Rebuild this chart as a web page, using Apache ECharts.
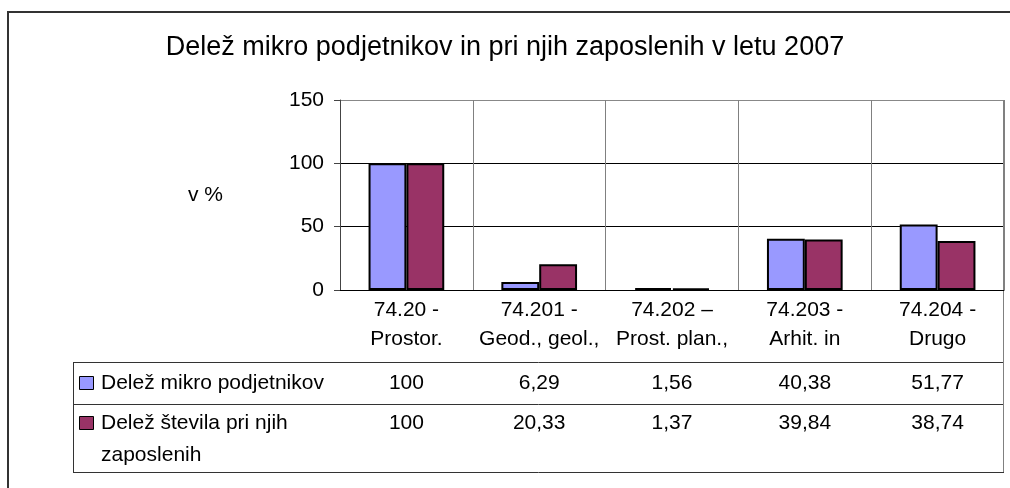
<!DOCTYPE html>
<html>
<head>
<meta charset="utf-8">
<script src="https://cdn.jsdelivr.net/npm/echarts@6/dist/echarts.min.js"></script>
<style>
  html, body { margin: 0; padding: 0; background: #fff; }
  #chart { width: 1010px; height: 488px; }
</style>
</head>
<body>
<div id="chart"></div>
<script>
// podatki
const categories = ['74.20 -\nProstor.', '74.201 -\nGeod., geol.,', '74.202 –\nProst. plan.,', '74.203 -\nArhit. in', '74.204 -\nDrugo']
const seriesNames = ['Delež mikro podjetnikov', 'Delež števila pri njih\nzaposlenih']
const mikro = [100, 6.29, 1.56, 40.38, 51.77]
const zaposleni = [100, 20.33, 1.37, 39.84, 38.74]
const yTicks = [0, 50, 100, 150]

const font = '"Liberation Sans", Arial, sans-serif'
const colors = ['#9999FF', '#993366']

const chart = echarts.init(document.getElementById('chart'))

// vrednosti v tabeli se pišejo z vejico
function fmt (v) {
  return String(v).replace('.', ',')
}

const optionData = {
  animation: false,
  textStyle: { fontFamily: font },
  title: {
    text: 'Delež mikro podjetnikov in pri njih zaposlenih v letu 2007',
    left: 'center',
    top: 29,
    textStyle: { fontSize: 27, fontWeight: 'normal', color: '#000', fontFamily: font }
  },
  grid: { left: 340, right: 6, top: 100, bottom: 198 },
  xAxis: {
    type: 'category',
    data: categories,
    axisLine: { lineStyle: { color: '#000', width: 1 } },
    axisTick: { length: 182, lineStyle: { color: '#808080' } },
    axisLabel: { color: '#000', fontSize: 21, lineHeight: 29, margin: 6, interval: 0, fontFamily: font },
    splitLine: { show: true, lineStyle: { color: '#808080' } }
  },
  yAxis: {
    type: 'value',
    min: yTicks[0],
    max: yTicks[yTicks.length - 1],
    interval: 50,
    axisLine: { show: true, lineStyle: { color: '#444' } },
    axisTick: { show: true, length: 6, lineStyle: { color: '#444' } },
    axisLabel: { color: '#000', fontSize: 21, margin: 16, fontFamily: font },
    splitLine: { lineStyle: { color: ['#000', '#000', '#000', '#888'] } }
  },
  series: [
    {
      name: seriesNames[0],
      type: 'bar',
      data: mikro,
      barGap: '0%',
      barCategoryGap: '43%',
      itemStyle: { color: colors[0], borderColor: '#000', borderWidth: 2 }
    },
    {
      name: seriesNames[1],
      type: 'bar',
      data: zaposleni,
      itemStyle: { color: colors[1], borderColor: '#000', borderWidth: 2 }
    }
  ]
}
chart.setOption(optionData)

// tabela s podatki pod grafom
const left = 73
const right = 1004
const rowTops = [362, 404, 472]
const rowMid = [383, 423]
const graphic = []

// okvir celotne slike
graphic.push({ type: 'rect', shape: { x: 8, y: 12, width: 1100, height: 600 }, style: { fill: 'none', stroke: '#333', lineWidth: 2 } })

graphic.push({ type: 'text', x: 188, y: 195, style: { text: 'v %', fontSize: 21, fontFamily: font, fill: '#000', verticalAlign: 'middle' } })

rowTops.forEach(function (y) {
  graphic.push({ type: 'line', shape: { x1: left, y1: y + 0.5, x2: right, y2: y + 0.5 }, style: { stroke: '#333', lineWidth: 1 } })
})
graphic.push({ type: 'line', shape: { x1: left + 0.5, y1: rowTops[0], x2: left + 0.5, y2: rowTops[2] }, style: { stroke: '#333', lineWidth: 1 } })
graphic.push({ type: 'line', shape: { x1: right - 0.5, y1: 100, x2: right - 0.5, y2: rowTops[2] }, style: { stroke: '#808080', lineWidth: 1 } })

const rows = [mikro, zaposleni]
rows.forEach(function (vals, r) {
  const mid = rowMid[r]
  graphic.push({ type: 'rect', shape: { x: 79.5, y: mid - 6.5, width: 14, height: 13 }, style: { fill: colors[r], stroke: '#000', lineWidth: 1 } })
  graphic.push({ type: 'text', x: 101, y: mid - 16, style: { text: seriesNames[r], fontSize: 21, lineHeight: 32, fontFamily: font, fill: '#000', verticalAlign: 'top' } })
  vals.forEach(function (v, i) {
    const x = chart.convertToPixel({ gridIndex: 0 }, [i, 0])[0]
    graphic.push({ type: 'text', x: x, y: mid, style: { text: fmt(v), fontSize: 21, fontFamily: font, fill: '#000', align: 'center', verticalAlign: 'middle' } })
  })
})

chart.setOption({ graphic: graphic })
</script>
</body>
</html>
